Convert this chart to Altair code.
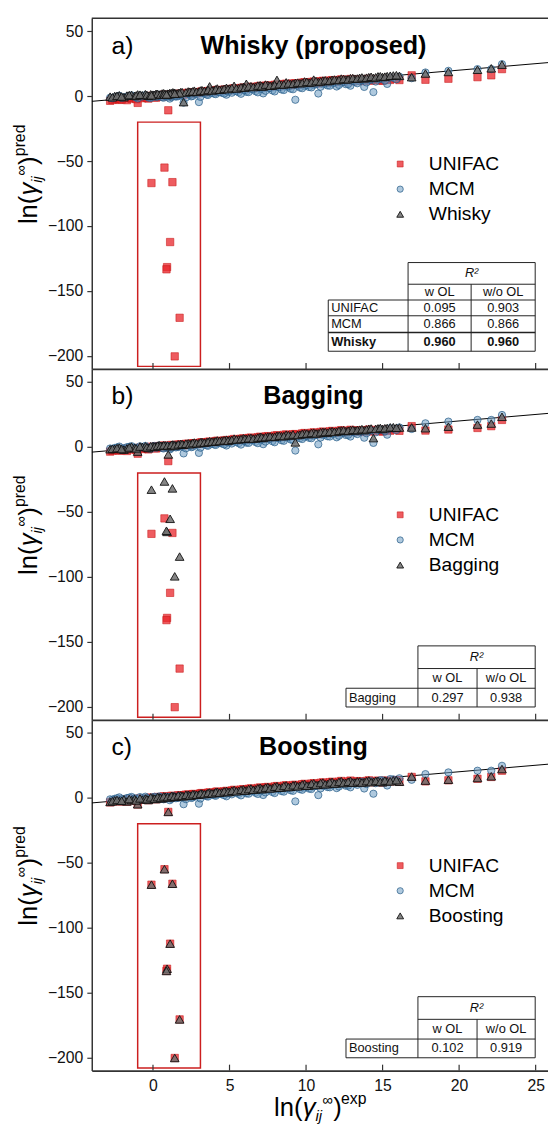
import altair as alt
import pandas as pd

# ---------------- data ----------------
exp_x = [
    -2.8, -2.5, -2.2, -1.9, -1.7, -1.4, -1.2, -1.0, -0.7, -0.5,
    -0.3, 0.0, 0.2, 0.4, 0.6, 0.8, 1.1, 1.3, 1.5, 1.8,
    2.0, 2.3, 2.5, 2.7, 3.0, 3.2, 3.5, 3.7, 4.0, 4.2,
    4.5, 4.8, 5.0, 5.3, 5.6, 5.9, 6.1, 6.4, 6.7, 7.0,
    7.2, 7.5, 7.8, 8.1, 8.4, 8.7, 9.0, 9.3, 9.6, 9.9,
    10.2, 10.5, 10.8, 11.1, 11.4, 11.7, 12.0, 12.3, 12.6, 12.9,
    13.2, 13.5, 13.8, 14.1, 14.4, 14.7, 15.0, 15.3, 15.7, 16.1,
    16.9, 17.8, 19.3, 21.2, 22.1, 22.8,
    -2.65, -2.35, -2.05, -1.55, -1.1, -0.85, -0.4, -0.15, 0.1, 0.3,
    0.5, 0.7, 0.95, 1.2, 1.4, 1.65, 1.9, 2.15, 2.4, 2.6,
    2.85, 3.1, 3.35, 3.6, 3.85, 4.1, 4.35, 4.65, 4.9, 5.15,
    5.45, 5.75, 6.0, 6.25, 6.55, 6.85, 7.1, 7.35, 7.65, 7.95,
    8.25, 8.55, 8.85, 9.15, 9.45, 9.75, 10.05, 10.35, 10.65, 10.95,
    11.25, 11.55, 11.85, 12.15, 12.45, 12.75, 13.05, 13.35, 13.65, 13.95,
    14.25, 14.55, 14.85, 15.15, 15.5, 15.9,
    1.0, 0.75, -0.1, 1.27, 1.12, 0.92, 0.88, 1.74, 1.42,
]
unifac_pred = [
    -3.6, -2.4, -2.9, -1.5, -3.1, -2.0, -0.9, -5.2, -1.6, -0.8,
    -1.9, -0.4, -1.2, 0.3, -0.5, 0.9, 0.1, 1.4, 0.6, 1.9,
    1.2, 2.5, 1.8, 2.9, 2.4, 3.6, 3.0, 4.1, 3.5, 4.8,
    4.1, 5.3, 4.6, 6.1, 5.2, 6.6, 5.8, 7.2, 6.3, 7.9,
    6.8, 8.3, 7.5, 9.0, 7.8, 9.6, 8.6, 9.9, 9.1, 10.7,
    9.5, 11.2, 10.1, 11.8, 10.6, 12.3, 11.0, 12.9, 11.4, 13.2,
    11.7, 12.6, 11.9, 13.4, 12.2, 13.1, 11.8, 12.7, 13.5, 12.4,
    16.0, 12.6, 13.4, 14.6, 16.0, 20.8,
    -2.9, -1.9, -2.6, -1.2, -2.3, -0.6, -1.3, 0.2, -0.9, 0.6,
    -0.2, 1.1, 0.4, 1.5, 0.8, 1.9, 1.3, 2.4, 1.6, 2.8,
    2.2, 3.4, 2.7, 3.9, 3.3, 4.5, 3.8, 5.0, 4.3, 5.6,
    4.9, 6.3, 5.4, 6.9, 6.0, 7.5, 6.6, 8.0, 7.1, 8.7,
    7.6, 9.3, 8.1, 9.8, 8.7, 10.4, 9.2, 10.9, 9.7, 11.5,
    10.3, 12.0, 10.8, 12.4, 11.2, 12.5, 11.5, 12.8, 11.6, 12.9,
    11.9, 13.0, 12.1, 13.3, 12.5, 13.6,
    -10.9, -55.0, -66.9, -66.2, -112.3, -131.6, -133.3, -170.6, -200.3,
]
mcm_pred = [
    -1.2, -0.8, 0.3, -1.0, -0.2, 0.6, -0.5, -1.8, -0.3, 0.8,
    -1.1, 0.4, -0.6, 1.0, -0.9, 0.2, -1.9, 0.8, -0.4, 0.9,
    -5.0, 1.6, -0.2, 1.9, -4.6, 2.3, 1.2, 2.8, 1.9, 3.4,
    2.6, 1.1, 3.7, 4.2, 2.9, 4.8, 3.3, 5.4, 3.8, 5.9,
    2.1, 6.3, 4.4, 6.9, 5.1, 7.2, 5.7, -2.8, 6.6, 7.8,
    7.0, 8.6, 2.0, 9.1, 8.2, 9.8, 7.4, 10.3, 9.2, 8.0,
    10.9, 11.5, 7.1, 12.2, 3.1, 12.8, 13.3, 9.4, 14.1, 15.0,
    13.8, 18.2, 19.5, 20.8, 20.8, 24.6,
    -1.6, -0.4, -1.3, 0.1, -0.7, 0.5, -0.2, -1.4, 0.7, -0.3,
    0.4, -1.2, 0.6, -0.8, 1.1, -0.1, 0.4, -1.1, 1.3, 0.2,
    1.6, -0.6, 2.1, 0.9, 2.4, 1.5, 3.0, 2.0, 3.5, 2.6,
    3.9, 1.8, 4.6, 3.1, 5.2, 2.9, 5.6, 4.1, 6.2, 3.6,
    6.8, 4.7, 7.4, 5.3, 8.0, 6.1, 8.5, 6.7, 9.1, 7.2,
    9.7, 8.0, 10.4, 8.6, 11.0, 9.3, 11.7, 9.9, 12.3, 10.5,
    12.7, 11.2, 13.5, 12.0, 14.4, 13.0,
    0.5, 0.3, -0.8, 0.9, 0.1, -0.4, 0.6, 1.1, 0.2,
]
whisky_pred = [
    -0.4, 0.1, 0.6, -0.8, 0.4, 0.9, 0.2, 1.3, 0.7, 1.5,
    0.3, 1.1, 1.8, 1.2, 2.0, 1.6, 2.4, 2.9, 2.1, 3.0,
    -4.6, 3.6, 3.1, 4.2, 3.5, 4.6, 3.9, 7.5, 4.6, 5.9,
    5.2, 6.4, 5.8, 7.9, 6.2, 7.1, 9.5, 7.6, 7.3, 8.4,
    7.4, 8.6, 8.1, 12.5, 8.9, 10.6, 9.3, 10.2, 10.0, 11.3,
    10.4, 12.7, 10.9, 12.0, 11.5, 12.6, 12.3, 13.5, 12.9, 13.8,
    13.4, 14.1, 13.6, 14.6, 14.0, 15.2, 14.7, 15.4, 15.9, 15.6,
    14.6, 17.4, 18.6, 20.3, 21.4, 24.2,
    -0.9, 0.2, -0.3, 0.8, 0.5, 1.1, 0.9, 1.4, 0.8, 1.7,
    1.3, 2.2, 1.9, 2.3, 2.6, 2.4, 3.1, 2.8, 3.4, 3.7,
    3.3, 4.3, 4.0, 4.8, 4.4, 5.2, 4.9, 5.6, 5.4, 6.2,
    5.9, 6.8, 6.5, 7.4, 7.0, 8.1, 7.7, 8.9, 8.0, 8.6,
    9.2, 9.0, 9.8, 9.5, 10.4, 10.1, 11.0, 10.7, 11.6, 11.3,
    12.2, 11.9, 12.8, 12.5, 13.2, 13.0, 13.9, 13.6, 14.4, 14.2,
    14.9, 14.5, 15.3, 15.0, 15.7, 16.1,
    1.7, 1.2, 0.6, 1.8, 1.5, 1.0, 1.3, 2.2, 1.9,
]
bagging_pred = [
    -1.8, -1.5, -0.5, -2.1, -1.2, 0.2, -0.8, -3.6, 0.1, 0.5,
    -0.9, 0.7, 0.4, 1.4, 0.9, 1.2, 0.6, 1.9, 1.3, 2.3,
    1.7, 2.8, 2.5, 3.4, 2.9, 3.8, 3.6, 4.4, 4.2, 5.0,
    4.9, 5.6, 5.3, 6.4, 5.9, 6.7, 6.2, 7.0, 6.6, 7.8,
    6.9, 8.0, 7.7, 8.6, 8.3, 9.4, 8.8, 3.5, 9.5, 10.4,
    9.9, 11.0, 10.5, 11.6, 11.0, 12.1, 11.8, 12.7, 12.2, 13.1,
    12.6, 13.3, 12.9, 14.0, 6.8, 14.3, 13.8, 14.6, 15.2, 14.9,
    15.0, 14.4, 15.6, 17.2, 18.0, 23.2,
    -1.4, -0.9, -1.6, -0.4, -1.1, 0.3, -0.3, 0.6, 0.2, 1.0,
    0.8, 1.3, 1.1, 1.6, 1.2, 2.0, 2.2, 2.5, 2.1, 3.0,
    2.8, 3.5, 3.3, 3.9, 4.1, 4.3, 4.6, 5.1, 4.7, 5.5,
    5.8, 6.1, 6.3, 6.7, 6.4, 7.2, 7.4, 7.6, 8.1, 7.9,
    8.7, 8.4, 9.1, 9.6, 9.2, 10.1, 10.3, 10.8, 10.4, 11.3,
    11.5, 11.8, 11.6, 12.4, 12.9, 12.5, 13.3, 13.0, 13.7, 13.5,
    14.2, 13.9, 14.6, 14.4, 15.1, 14.8,
    -5.8, -26.6, -32.9, -31.9, -55.3, -65.4, -64.5, -84.4, -99.6,
]
boosting_pred = [
    -3.2, -2.0, -2.5, -1.3, -2.8, -1.8, -1.0, -5.0, -1.4, -0.6,
    -1.7, -0.3, -1.0, 0.2, -0.5, 0.8, 0.2, 1.2, 0.7, 1.7,
    1.1, 2.3, 1.7, 2.6, 2.4, 3.3, 3.1, 4.0, 3.6, 4.6,
    4.2, 5.2, 4.5, 6.0, 5.3, 6.5, 5.7, 7.1, 6.4, 7.7,
    6.7, 8.2, 7.4, 8.9, 7.9, 9.5, 8.5, 9.8, 9.2, 10.6,
    9.4, 11.1, 10.0, 11.7, 10.5, 12.2, 11.1, 12.8, 11.5, 13.0,
    11.8, 12.5, 12.0, 13.3, 12.3, 13.0, 11.9, 12.6, 13.4, 12.3,
    16.3, 13.2, 13.9, 15.2, 16.5, 22.1,
    -2.6, -1.7, -2.3, -1.0, -2.1, -0.5, -1.1, 0.3, -0.7, 0.5,
    -0.1, 1.0, 0.5, 1.4, 0.9, 1.8, 1.4, 2.3, 1.7, 2.7,
    2.3, 3.2, 2.8, 3.7, 3.4, 4.3, 3.9, 4.9, 4.4, 5.4,
    5.0, 6.1, 5.5, 6.7, 6.1, 7.3, 6.7, 7.8, 7.2, 8.5,
    7.7, 9.1, 8.2, 9.6, 8.8, 10.2, 9.3, 10.7, 9.8, 11.3,
    10.4, 11.8, 10.9, 12.2, 11.3, 12.3, 11.6, 12.6, 11.7, 12.8,
    12.0, 12.9, 12.2, 13.2, 12.6, 13.5,
    -10.9, -55.0, -66.9, -66.2, -112.3, -131.6, -133.3, -170.6, -200.3,
]

parity_x = [-4, 27]
parity_y = [-4, 27]
box_x = [-1.0, 3.1]
box_y = [-208, -20]
x_ticks = [0, 5, 10, 15, 20, 25]
y_ticks = [-200, -150, -100, -50, 0, 50]

table_a_rows = ["UNIFAC", "MCM", "Whisky"]
table_a_wol = ["0.095", "0.866", "0.960"]
table_a_wool = ["0.903", "0.866", "0.960"]
table_b_rows = ["Bagging"]
table_b_wol = ["0.297"]
table_b_wool = ["0.938"]
table_c_rows = ["Boosting"]
table_c_wol = ["0.102"]
table_c_wool = ["0.919"]

# ---------------- style / layout ----------------
FONT = "Liberation Sans"
AX = "#333333"
W, H = 466, 356
XS = alt.Scale(domain=[-4, 26], nice=False, zero=False)
YS = alt.Scale(domain=[-210, 60], nice=False, zero=False)

SQ = dict(shape="square", filled=True, fill="#e8262b", fillOpacity=0.75,
          stroke="#c81414", strokeOpacity=0.55, strokeWidth=1)
CI = dict(shape="circle", filled=True, fill="#6d9cc2", fillOpacity=0.55,
          stroke="#245a86", strokeOpacity=0.7, strokeWidth=1)
TR = dict(shape="triangle-up", filled=True, fill="#707070", fillOpacity=0.85,
          stroke="#111111", strokeOpacity=0.9, strokeWidth=1)

one = pd.DataFrame({"k": [0]})


def px_text(df, **kw):
    return alt.Chart(df).mark_text(**kw).encode(
        x=alt.X("px:Q", scale=None),
        y=alt.Y("py:Q", scale=None),
        text="t:N",
        size=alt.Size("fs:Q", scale=None, legend=None),
    )


def fancy_label(pieces, angle):
    rows_n = [p for p in pieces if not p[4]]
    rows_i = [p for p in pieces if p[4]]
    out = []
    for rows, style in ((rows_n, "normal"), (rows_i, "italic")):
        df = pd.DataFrame({"t": [r[0] for r in rows], "px": [r[1] for r in rows],
                           "py": [r[2] for r in rows], "fs": [r[3] for r in rows]})
        kw = dict(align="left", baseline="alphabetic", fontStyle=style, color="black", font=FONT)
        if angle:
            kw["angle"] = angle
        out.append(px_text(df, **kw))
    return out


def table_layers(rows, wol, wool, geom, bold_last):
    L, D1, D2, R, T = geom
    n = len(rows)
    t0, t1, t2 = T[0], T[1], T[2]
    tb = T[-1]
    segs = [
        (D1, R, t0, t0, 1), (D1, R, t1, t1, 1), (L, R, t2, t2, 1),
        (D1, D1, t0, tb, 1), (R, R, t0, tb, 1), (D2, D2, t1, tb, 1), (L, L, t2, tb, 1),
    ]
    for i in range(n):
        w = 1.6 if (bold_last and i == n - 2) else 1
        segs.append((L, R, T[3 + i], T[3 + i], w))
    sdf = pd.DataFrame(segs, columns=["x1", "x2", "y1", "y2", "w"])
    lines = alt.Chart(sdf).mark_rule(color="#222222").encode(
        x=alt.X("x1:Q", scale=None), x2="x2:Q",
        y=alt.Y("y1:Q", scale=None), y2="y2:Q",
        size=alt.Size("w:Q", scale=None, legend=None))
    c1, c2 = (D1 + D2) / 2, (D2 + R) / 2
    fs = 13
    norm = [("w OL", c1, (t1 + t2) / 2), ("w/o OL", c2, (t1 + t2) / 2)]
    bold = []
    left = []
    for i in range(n):
        ym = (T[2 + i] + T[3 + i]) / 2
        target = bold if (bold_last and i == n - 1) else norm
        target.append((wol[i], c1, ym))
        target.append((wool[i], c2, ym))
        left.append((rows[i], L + 3, ym, bold_last and i == n - 1))
    out = [lines]
    ndf = pd.DataFrame({"t": [a[0] for a in norm], "px": [a[1] for a in norm],
                        "py": [a[2] for a in norm], "fs": [fs] * len(norm)})
    out.append(px_text(ndf, align="center", baseline="middle", color="#111", font=FONT))
    if bold:
        bdf = pd.DataFrame({"t": [a[0] for a in bold], "px": [a[1] for a in bold],
                            "py": [a[2] for a in bold], "fs": [fs] * len(bold)})
        out.append(px_text(bdf, align="center", baseline="middle", fontWeight="bold",
                           color="#111", font=FONT))
    for name, x0, ym, b in left:
        ldf = pd.DataFrame({"t": [name], "px": [x0], "py": [ym], "fs": [fs]})
        out.append(px_text(ldf, align="left", baseline="middle", color="#111", font=FONT,
                           fontWeight="bold" if b else "normal"))
    rdf = pd.DataFrame({"t": ["R²"], "px": [(D1 + R) / 2], "py": [(t0 + t1) / 2], "fs": [fs]})
    out.append(px_text(rdf, align="center", baseline="middle", fontStyle="italic",
                       color="#111", font=FONT))
    return out


def panel(tag, title, name3, vals3, rows, wol, wool, geom, bold_last, bottom, top_border):
    if bottom:
        xaxis = alt.Axis(values=x_ticks, title=None, grid=False, ticks=False, tickSize=0,
                         labelPadding=7, labelFontSize=16, labelColor="#111", labelFont=FONT,
                         domainColor=AX, domainWidth=1.8)
    else:
        xaxis = alt.Axis(values=x_ticks, title=None, grid=False, labels=False, ticks=False,
                         tickSize=0, domainColor=AX, domainWidth=1.8)
    yaxis = alt.Axis(values=y_ticks, title=None, grid=False, tickSize=5, tickColor=AX,
                     tickWidth=1.2, domainColor=AX, domainWidth=1.5, labelFontSize=16,
                     labelColor="#111", labelPadding=4, labelFont=FONT)
    X = alt.X("x:Q", scale=XS, axis=xaxis)
    Y = alt.Y("y:Q", scale=YS, axis=yaxis)

    layers = []
    layers.append(alt.Chart(pd.DataFrame({"x": parity_x, "y": parity_y}))
                  .mark_line(color="black", strokeWidth=1, clip=True).encode(x=X, y=Y))
    layers.append(alt.Chart(pd.DataFrame({"x": [box_x[0]], "x2": [box_x[1]],
                                          "y": [box_y[0]], "y2": [box_y[1]]}))
                  .mark_rect(fill="white", fillOpacity=0, stroke="#cc1f1f", strokeWidth=1.5)
                  .encode(x=X, x2="x2:Q", y=Y, y2="y2:Q"))
    layers.append(alt.Chart(pd.DataFrame({"x": exp_x, "y": unifac_pred}))
                  .mark_point(size=56, **SQ).encode(x=X, y=Y))
    layers.append(alt.Chart(pd.DataFrame({"x": exp_x, "y": mcm_pred}))
                  .mark_point(size=54, **CI).encode(x=X, y=Y))
    layers.append(alt.Chart(pd.DataFrame({"x": exp_x, "y": vals3}))
                  .mark_point(size=78, **TR).encode(x=X, y=Y))
    # inward x ticks
    layers.append(alt.Chart(pd.DataFrame({"x": x_ticks})).mark_rule(color=AX, strokeWidth=1.2)
                  .encode(x=X, y=alt.value(H), y2=alt.value(H - 6)))
    if top_border:
        layers.append(alt.Chart(one).mark_rule(color=AX, strokeWidth=1.5)
                      .encode(x=alt.value(0), x2=alt.value(W), y=alt.value(0)))
    # panel tag and title
    layers.append(px_text(pd.DataFrame({"t": [tag], "px": [20], "py": [28], "fs": [25]}),
                          align="left", baseline="middle", color="black", font=FONT))
    layers.append(px_text(pd.DataFrame({"t": [title], "px": [225], "py": [28], "fs": [25.5]}),
                          align="center", baseline="middle", fontWeight="bold",
                          color="black", font=FONT))
    # legend
    ly = [148, 173.5, 199]
    for sty, sz, yy in ((SQ, 36, ly[0]), (CI, 40, ly[1]), (TR, 48, ly[2])):
        layers.append(alt.Chart(one).mark_point(size=sz, **sty)
                      .encode(x=alt.value(313), y=alt.value(yy)))
    layers.append(px_text(pd.DataFrame({"t": ["UNIFAC", "MCM", name3], "px": [342] * 3,
                                        "py": ly, "fs": [19.5] * 3}),
                          align="left", baseline="middle", color="black", font=FONT))
    # table
    layers += table_layers(rows, wol, wool, geom, bold_last)
    # y title
    ypieces = [("ln(", -56, 209, 26, False), ("γ", -56, 180, 26, True),
               ("ij", -51, 167, 15, True), ("∞", -67, 160, 15, False),
               (")", -56, 149, 26, False), ("pred", -68, 140, 16, False)]
    layers += fancy_label(ypieces, 270)
    if bottom:
        xb = 402
        xpieces = [("ln(", 185, xb, 26, False), ("γ", 214, xb, 26, True),
                   ("ij", 227, xb + 5, 15, True), ("∞", 234, xb - 11, 15, False),
                   (")", 245, xb, 26, False), ("exp", 253, xb - 12, 16, False)]
        layers += fancy_label(xpieces, None)
    return alt.layer(*layers).properties(width=W, height=H)


geom_a = (240, 321, 385, 450, [248, 270, 286, 302, 319, 338])
geom_bc = (258, 331, 391, 450, [281, 304, 324, 343])

pa = panel("a)", "Whisky (proposed)", "Whisky", whisky_pred, table_a_rows, table_a_wol,
           table_a_wool, geom_a, True, False, True)
pb = panel("b)", "Bagging", "Bagging", bagging_pred, table_b_rows, table_b_wol,
           table_b_wool, geom_bc, False, False, False)
pc = panel("c)", "Boosting", "Boosting", boosting_pred, table_c_rows, table_c_wol,
           table_c_wool, geom_bc, False, True, False)

chart = alt.vconcat(pa, pb, pc, spacing=0, bounds="flush").properties(
    padding={"left": 4, "top": 1, "right": -4, "bottom": 0}
).configure(font=FONT).configure_view(stroke=None)

chart.save("out.html", embed_options={"renderer": "svg", "actions": False})
